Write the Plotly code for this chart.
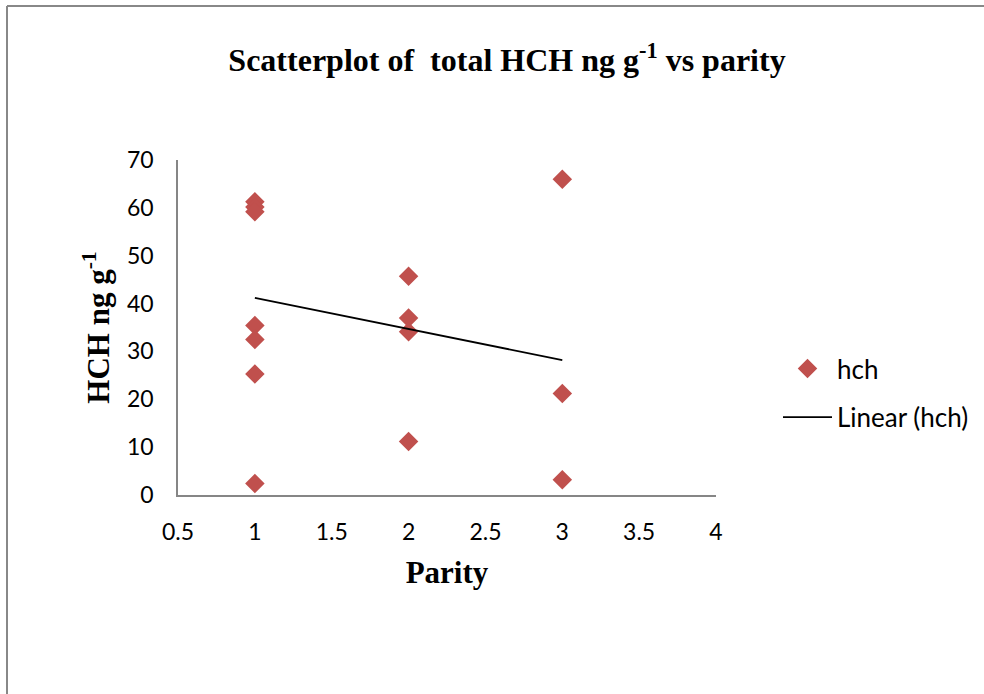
import plotly.graph_objects as go

# Data
parity = [1, 1, 1, 1, 1, 1, 1, 2, 2, 2, 2, 3, 3, 3]
hch = [61.3, 60.2, 59.2, 35.4, 32.5, 25.3, 2.4, 45.7, 37.0, 34.1, 11.2, 66.0, 21.2, 3.2]

# Linear trendline as drawn (endpoints)
trend_x = [1, 3]
trend_y = [41.2, 28.2]

x_ticks = [0.5, 1, 1.5, 2, 2.5, 3, 3.5, 4]
y_ticks = [0, 10, 20, 30, 40, 50, 60, 70]

W, H = 984, 694
L, R, T, B = 178, 268, 160, 199

fig = go.Figure()
fig.add_trace(go.Scatter(
    x=parity, y=hch, mode="markers", name="hch",
    marker=dict(symbol="diamond", size=15, color="#C0504D"),
    legendgroup="a",
))
fig.add_trace(go.Scatter(
    x=trend_x, y=trend_y, mode="lines", name="Linear (hch)",
    line=dict(color="black", width=1.8),
    legendgroup="b",
))

tick_font = dict(family="Lato, Liberation Sans, sans-serif", size=23, color="black")
legend_font = dict(family="Lato, Liberation Sans, sans-serif", size=26, color="black")
title_font = dict(family="Liberation Serif, Times New Roman, serif", size=32, color="black")
axis_title_font = dict(family="Liberation Serif, Times New Roman, serif", size=31, color="black")

fig.update_layout(
    width=W, height=H,
    margin=dict(l=L, r=R, t=T, b=B, autoexpand=False),
    paper_bgcolor="white", plot_bgcolor="white",
    title=dict(text="<b>Scatterplot of  total HCH ng g<sup>-1</sup> vs parity</b>",
               x=507 / W, xanchor="center", y=1 - 60 / H, yanchor="middle",
               font=title_font),
    xaxis=dict(range=[0.5, 4], tickvals=x_ticks, ticktext=[str(v) for v in x_ticks],
               showgrid=False, zeroline=False, showline=True, linecolor="#868686",
               linewidth=1.5, ticks="", tickfont=tick_font, ticklabelstandoff=16,
               title=dict(text="<b>Parity</b>", font=axis_title_font, standoff=17)),
    yaxis=dict(range=[0, 70], tickvals=y_ticks, showgrid=False, zeroline=False,
               showline=True, linecolor="#868686", linewidth=1.5, ticks="",
               tickfont=tick_font, ticklabelstandoff=18,
               title=dict(text="<b>HCH ng g<sup>-1</sup></b>", font=axis_title_font, standoff=8)),
    legend=dict(x=(778 - L) / (W - L - R), xanchor="left",
                y=(495 - 345) / (H - T - B), yanchor="top",
                font=legend_font, tracegroupgap=12, itemwidth=49,
                bgcolor="rgba(0,0,0,0)"),
    showlegend=True,
)

# Outer border (left and top edges visible)
px = lambda v: (v - L) / (W - L - R)
py = lambda v: (H - B - v) / (H - T - B)
fig.add_shape(type="line", xref="paper", yref="paper",
              x0=px(7), y0=py(6), x1=px(W + 5), y1=py(6),
              line=dict(color="#888888", width=2))
fig.add_shape(type="line", xref="paper", yref="paper",
              x0=px(7), y0=py(6), x1=px(7), y1=py(H + 5),
              line=dict(color="#888888", width=2))

fig.write_html("out.html")
